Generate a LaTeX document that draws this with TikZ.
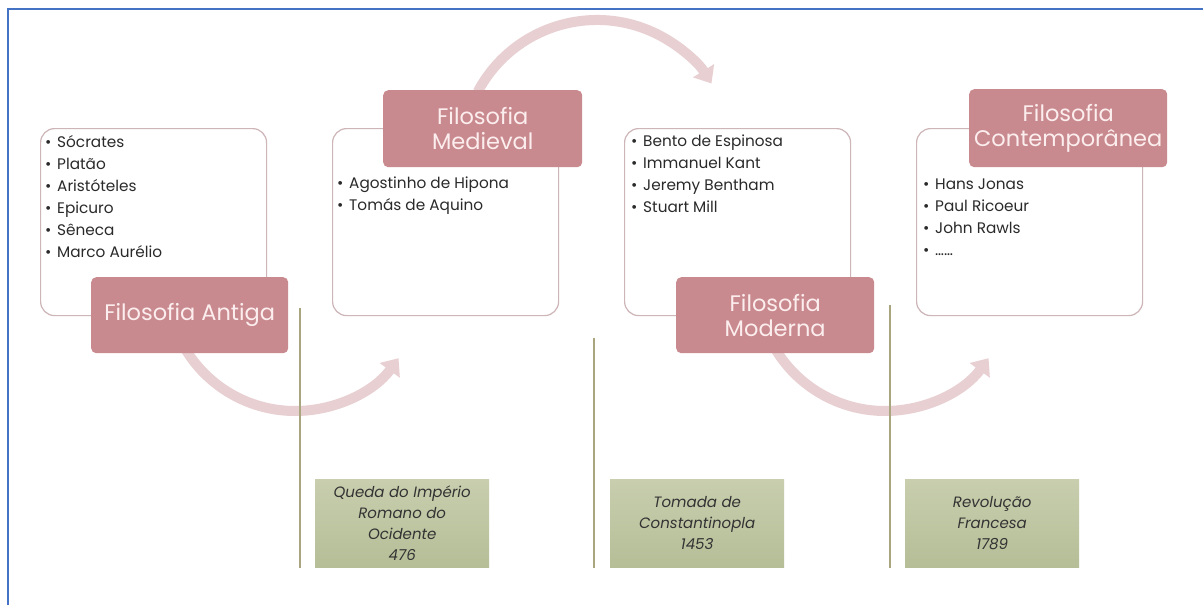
\documentclass[tikz,border=0pt]{standalone}
\usepackage{fontspec}
\setmainfont{Poppins}
\usetikzlibrary{arrows.meta}
\definecolor{rose}{HTML}{C98A8F}
\definecolor{rosetext}{HTML}{FCEEEE}
\definecolor{listborder}{HTML}{CDB5B8}
\definecolor{arrowpink}{HTML}{E8CFD2}
\definecolor{oliveA}{HTML}{C8CEAE}
\definecolor{oliveB}{HTML}{B5BE97}
\definecolor{oliveline}{HTML}{A9A57E}
\definecolor{frameblue}{HTML}{4472C4}
\definecolor{listink}{HTML}{2A2A2A}
\newcommand{\itm}[1]{\strut\makebox[12pt][l]{\textbullet}#1}
\begin{document}
\begin{tikzpicture}[x=1pt,y=-1pt,
 listbox/.style={draw=listborder, line width=1.2pt, rounded corners=14pt, fill=white, minimum width=226pt, minimum height=187pt, anchor=north west, inner sep=0pt},
 titlebox/.style={fill=rose, rounded corners=5pt, text=rosetext, font=\fontsize{22.5}{25}\selectfont, align=center, minimum width=198pt, minimum height=77pt, anchor=north west, inner sep=2pt},
 listtext/.style={anchor=north west, align=left, font=\fontsize{15.3}{22}\selectfont, text=listink, inner sep=0pt},
 eventbox/.style={top color=oliveA, bottom color=oliveB, minimum width=174pt, minimum height=88pt, anchor=north west, align=center, font=\fontsize{15}{21}\selectfont\itshape, text=black!80, inner sep=0pt},
 timeline/.style={draw=oliveline, line width=1.2pt},
 cyclearrow/.style={draw=arrowpink, line width=10pt, -{Triangle[width=24pt,length=15pt]}}
]
\useasboundingbox (0,0) rectangle (1203,605);
\fill[white] (0,0) rectangle (1203,605);

% frame
\coordinate (fb) at (8,605);
\coordinate (fc) at (8,9);
\coordinate (fr) at (1203,9);
\draw[frameblue, line width=2pt] (fb) -- (fc) -- (fr);

% list boxes
\node[listbox] (l1) at (40,128) {};
\node[listbox] (l2) at (332,128) {};
\node[listbox] (l3) at (624,128) {};
\node[listbox] (l4) at (916,128) {};

\node[listtext] (x1) at (45,132) {\itm{Sócrates}\\\itm{Platão}\\\itm{Aristóteles}\\\itm{Epicuro}\\\itm{Sêneca}\\\itm{Marco Aurélio}};
\node[listtext] (x2) at (337,173) {\itm{Agostinho de Hipona}\\\itm{Tomás de Aquino}};
\node[listtext] (x3) at (631,131) {\itm{Bento de Espinosa}\\\itm{Immanuel Kant}\\\itm{Jeremy Bentham}\\\itm{Stuart Mill}};
\node[listtext] (x4) at (923,174) {\itm{Hans Jonas}\\\itm{Paul Ricoeur}\\\itm{John Rawls}\\\itm{……}};

% cycle arrows
\coordinate (c1) at (295,283);
\coordinate (c2) at (597,155);
\coordinate (c3) at (885,283);
\path (c1) ++(150:128) coordinate (a1);
\path (c2) ++(208:135) coordinate (a2);
\path (c3) ++(150:128) coordinate (a3);
\draw[cyclearrow] (a1) arc[start angle=150, end angle=36, radius=128];
\draw[cyclearrow] (a2) arc[start angle=208, end angle=328, radius=135];
\draw[cyclearrow] (a3) arc[start angle=150, end angle=36, radius=128];

% titles
\node[titlebox, minimum width=197pt, minimum height=76pt] (t1) at (91,277) {Filosofia Antiga};
\node[titlebox, minimum width=199pt] (t2) at (383,90) {Filosofia\\Medieval};
\node[titlebox, minimum height=76pt] (t3) at (676,277) {Filosofia\\Moderna};
\node[titlebox, minimum height=78pt] (t4) at (969,89) {Filosofia\\Contemporânea};

% timelines
\coordinate (v1t) at (300,308);
\coordinate (v1b) at (300,568);
\coordinate (v2t) at (594,338);
\coordinate (v2b) at (594,568);
\coordinate (v3t) at (890,305);
\coordinate (v3b) at (890,568);
\draw[timeline] (v1t) -- (v1b);
\draw[timeline] (v2t) -- (v2b);
\draw[timeline] (v3t) -- (v3b);

% events
\node[eventbox] (e1) at (315,479) {Queda do Império\\Romano do\\Ocidente\\476};
\node[eventbox] (e2) at (610,479) {Tomada de\\Constantinopla\\1453};
\node[eventbox] (e3) at (905,479) {Revolução\\Francesa\\1789};
\end{tikzpicture}
\end{document}
